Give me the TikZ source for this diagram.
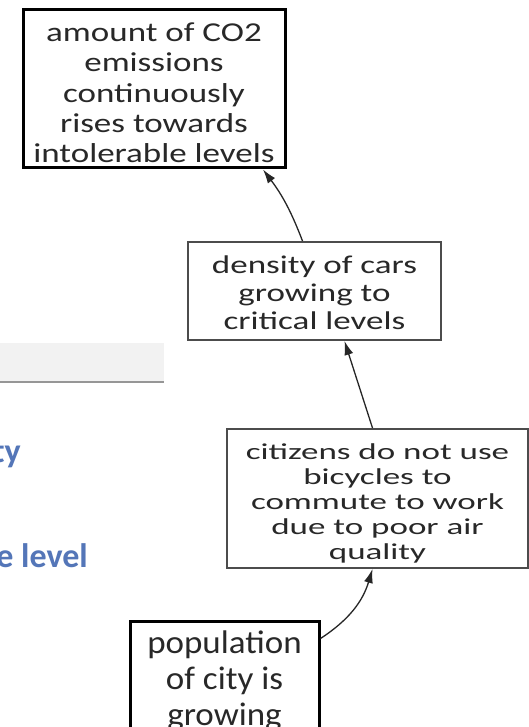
\documentclass[tikz,border=0pt]{standalone}
\usepackage{fontspec}
\usepackage{graphicx}
\setmainfont{Carlito}
\usetikzlibrary{arrows.meta}
\definecolor{txt}{RGB}{40,40,40}
\definecolor{bluetxt}{RGB}{84,118,184}
\definecolor{barfill}{RGB}{242,242,242}
\definecolor{barline}{RGB}{150,150,150}
\newcommand{\boxlines}[3]{\raisebox{-#2}[\height][\depth]{\scalebox{1}[#1]{\fontsize{35}{38.5}\selectfont\begin{tabular}{@{}c@{}}#3\end{tabular}}}}
\tikzset{
  cbox/.style={draw, rectangle, inner sep=0pt, align=center, text=txt},
  thickbox/.style={cbox, line width=3pt, draw=black},
  thinbox/.style={cbox, line width=2pt, draw=black!70},
  arr/.style={-{Latex[length=14pt,width=9pt]}, line width=1.3pt, draw=black!85},
  bluelabel/.style={text=bluetxt, font=\fontsize{34}{40}\selectfont\bfseries, inner sep=0pt}
}
\begin{document}
\begin{tikzpicture}[x=1pt,y=1pt]
\useasboundingbox (0,0) rectangle (529,-727);
\clip (0,0) rectangle (529,-727);
\fill[white] (0,0) rectangle (529,-727);
% grey bar on the left
\fill[barfill] (-5,-343) rectangle (164,-382);
\draw[barline, line width=2.5pt] (-5,-382) -- (164,-382);
% cut-off blue labels
\node[bluelabel, anchor=base east] (lbla) at (21,-462) {ty};
\node[bluelabel, anchor=base east] (lblb) at (88,-567) {e level};
% boxes
\node[thickbox, minimum width=262pt, minimum height=158pt] (co2) at (154,-89)
  {\boxlines{0.78}{7pt}{amount of CO2\\emissions\\continuously\\rises towards\\intolerable levels}};
\node[thinbox, minimum width=253pt, minimum height=98pt] (den) at (314.5,-291)
  {\boxlines{0.73}{5pt}{density of cars\\growing to\\critical levels}};
\node[thinbox, minimum width=301pt, minimum height=139pt] (cit) at (377.5,-498.5)
  {\boxlines{0.65}{6pt}{citizens do not use\\bicycles to\\commute to work\\due to poor air\\quality}};
\node[thickbox, minimum width=189pt, minimum height=102pt] (pop) at (224.5,-675)
  {\boxlines{0.935}{7pt}{population\\of city is\\growing}};
% connectors
\draw[arr] ([yshift=-19pt]pop.north east) to[bend right=20] ([xshift=-5pt]cit.south);
\draw[arr] ([xshift=-5pt]cit.north) -- ([xshift=30pt]den.south);
\draw[arr] ([xshift=-12pt]den.north) to[bend right=8] ([xshift=109pt]co2.south);
\end{tikzpicture}
\end{document}
